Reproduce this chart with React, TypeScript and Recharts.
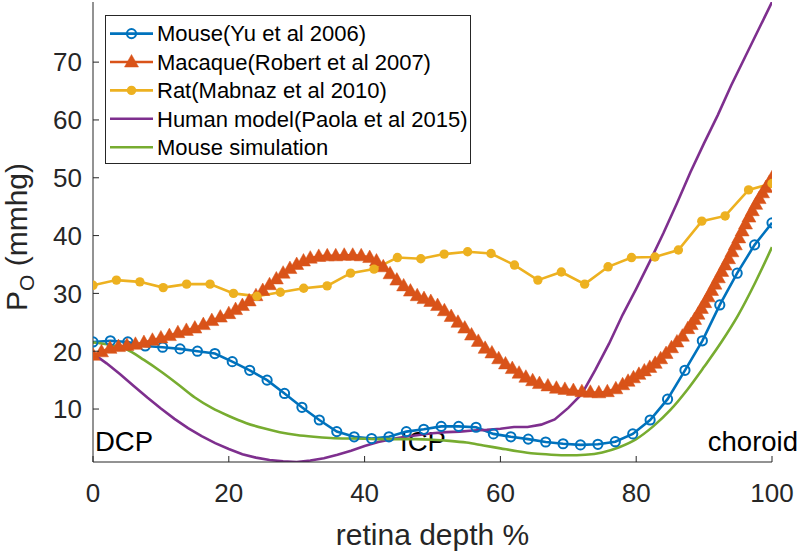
import { LineChart, Line, XAxis, YAxis, Legend } from "recharts";

const FONT = '"Liberation Sans", Arial, Helvetica, sans-serif';
const AXIS = "#262626";

const BLUE = "#0072BD";
const ORANGE = "#D95319";
const YELLOW = "#EDB120";
const PURPLE = "#7E2F8E";
const GREEN = "#77AC30";

// Mouse (Yu et al 2006)
const mouseX = [
  0, 2.56, 5.13, 7.69, 10.26, 12.82, 15.38, 17.95, 20.51, 23.08, 25.64, 28.21, 30.77, 33.33,
  35.9, 38.46, 41.03, 43.59, 46.15, 48.72, 51.28, 53.85, 56.41, 58.97, 61.54, 64.1, 66.67,
  69.23, 71.79, 74.36, 76.92, 79.49, 82.05, 84.62, 87.18, 89.74, 92.31, 94.87, 97.44, 100,
];
const mouseY = [
  21.6, 21.8, 21.6, 20.9, 20.7, 20.4, 20.0, 19.6, 18.2, 16.7, 15.0, 12.7, 10.3, 8.1, 6.1, 5.2,
  4.9, 5.2, 6.1, 6.5, 7.0, 7.0, 6.85, 5.7, 5.2, 4.8, 4.3, 4.0, 3.8, 3.9, 4.35, 5.7, 8.1, 11.7,
  16.7, 21.8, 28.0, 33.5, 38.4, 42.2,
];

const macaqueX = [
  0, 1.25, 2.5, 3.75, 5, 6.25, 7.5, 8.75, 10, 11.25, 12.5, 13.75, 15, 16.25, 17.5, 18.75, 20,
  21, 22, 23, 24, 25, 26, 27, 28, 29, 30, 31, 32,
  33.25, 34.5, 35.75, 37, 38.25, 39.5, 40.75,
  41.75, 42.75, 43.75, 44.75, 45.75, 46.75, 47.75, 48.75, 49.75, 50.75, 51.75, 52.75, 53.75,
  54.75, 55.75, 56.75, 57.75, 58.75, 59.75, 60.75, 61.75, 62.75, 63.75, 64.75, 65.75,
  67, 68.25, 69.5, 70.75, 72, 73.25, 74.5, 75.75, 77,
  78, 78.8, 79.6, 80.4, 81.2, 82, 82.8, 83.6, 84.4, 85.2, 86, 86.8, 87.6,
  88.1, 88.6, 89.1, 89.6, 90.1, 90.6, 91.1, 91.6, 92.1, 92.6, 93.1, 93.6, 94.1, 94.6, 95.1,
  95.6, 96.1, 96.6, 97.1, 97.6, 98.1, 98.6, 99.1, 99.6, 100,
];
const macaqueY = [
  19.3, 19.9, 20.5, 20.8, 21.0, 21.2, 21.5, 21.9, 22.3, 22.7, 23.2, 23.6, 24.0, 24.6, 25.3, 25.9, 26.5,
  27.2, 27.9, 28.7, 29.6, 30.5, 31.5, 32.5, 33.5, 34.3, 35.0, 35.6, 36.1,
  36.4, 36.5, 36.5, 36.6, 36.6, 36.5, 36.2,
  35.6, 34.6, 33.4, 32.3, 31.3, 30.4, 29.6, 29.1, 28.6, 27.9, 27.0, 26.0, 25.0,
  24.0, 22.8, 21.7, 20.5, 19.7, 18.7, 17.8, 17.0, 16.2, 15.5, 14.9, 14.4,
  14.0, 13.6, 13.4, 13.2, 13.0, 12.9, 12.8, 13.0, 13.5,
  14.2, 14.8, 15.4, 16.0, 16.6, 17.2, 17.9, 18.7, 19.6, 20.6, 21.6, 22.6, 23.9,
  24.6, 25.5, 26.4, 27.4, 28.4, 29.4, 30.5, 31.6, 32.7, 33.8, 34.9, 36.0, 37.2, 38.4, 39.6,
  40.8, 42.0, 43.2, 44.3, 45.4, 46.4, 47.4, 48.3, 49.2, 50.0,
];

// Rat (Mabnaz et al 2010)
const ratX = [
  0, 3.45, 6.9, 10.34, 13.79, 17.24, 20.69, 24.14, 27.59, 31.03, 34.48, 37.93, 41.38, 44.83,
  48.28, 51.72, 55.17, 58.62, 62.07, 65.52, 68.97, 72.41, 75.86, 79.31, 82.76, 86.21, 89.66,
  93.1, 96.55, 100,
];
const ratY = [
  31.4, 32.3, 32.0, 31.0, 31.6, 31.6, 30.0, 29.5, 30.2, 30.9, 31.3, 33.5, 34.2, 36.2, 36.0,
  36.8, 37.2, 36.9, 34.9, 32.3, 33.7, 31.6, 34.6, 36.2, 36.3, 37.5, 42.5, 43.4, 47.9, 49.0,
];

// Human model (Paola et al 2015)
const humanX = [
  0, 2, 4, 6, 8, 10, 12, 14, 16, 18, 20, 22, 24, 26, 28, 30, 32, 34, 36, 38, 40, 42, 44, 46, 48,
  50, 52, 54, 56, 58, 60, 62, 64, 66, 68, 70, 72, 74, 76, 78, 80, 82, 84, 86, 88, 90, 92, 94, 96,
  98, 100,
];
const humanY = [
  19.6, 17.9, 16.0, 14.0, 12.0, 10.1, 8.3, 6.7, 5.3, 4.1, 3.1, 2.2, 1.6, 1.2, 0.95, 0.84, 1.1,
  1.5, 2.1, 2.8, 3.6, 4.3, 4.8, 5.2, 5.5, 5.8, 6.0, 6.1, 6.3, 6.4, 6.6, 6.9, 6.9, 7.3, 8.2, 10.2,
  12.6, 16.8, 21.3, 26.3, 30.8, 35.5, 40.4, 45.6, 51.0, 56.0, 60.8, 66.0, 70.8, 75.6, 80.4,
];

// Mouse simulation
const simX = [
  0, 2.5, 5, 7.5, 10, 12.5, 15, 17.5, 20, 22.5, 25, 27.5, 30, 32.5, 35, 37.5, 40, 42.5, 45, 47.5,
  50, 52.5, 55, 57.5, 60, 62.5, 65, 67.5, 70, 72.5, 75, 77.5, 80, 82.5, 85, 87.5, 90, 92.5, 95,
  97.5, 100,
];
const simY = [
  21.5, 21.1, 20.3, 18.5, 16.5, 14.3, 12.0, 10.2, 8.8, 7.6, 6.7, 6.0, 5.5, 5.2, 5.0, 4.9, 4.85,
  4.8, 4.8, 4.8, 4.7, 4.5, 4.2, 3.7, 3.2, 2.7, 2.3, 2.1, 2.0, 2.1, 2.5, 3.4, 4.8, 7.0, 9.8, 13.3,
  17.3, 21.5, 26.2, 31.8, 38.0,
];

const xTicks = [0, 20, 40, 60, 80, 100];
const yTicks = [10, 20, 30, 40, 50, 60, 70];

const toPoints = (xs: number[], ys: number[]) => xs.map((x, i) => ({ x, y: ys[i] }));

const series = [
  { name: "Mouse(Yu et al 2006)", color: BLUE, marker: "circle" },
  { name: "Macaque(Robert et al 2007)", color: ORANGE, marker: "triangle" },
  { name: "Rat(Mabnaz et al 2010)", color: YELLOW, marker: "dot" },
  { name: "Human model(Paola et al 2015)", color: PURPLE, marker: "none" },
  { name: "Mouse simulation", color: GREEN, marker: "none" },
];

function Marker({ kind, cx, cy, color }: { kind: string; cx: number; cy: number; color: string }) {
  if (kind === "circle")
    return <circle cx={cx} cy={cy} r={4.6} fill="none" stroke={color} strokeWidth={2} />;
  if (kind === "triangle")
    return (
      <path
        d={`M${cx},${cy - 7.5} L${cx + 7},${cy + 5} L${cx - 7},${cy + 5} Z`}
        fill={color}
        stroke={color}
        strokeWidth={0.5}
      />
    );
  if (kind === "dot") return <circle cx={cx} cy={cy} r={4.7} fill={color} />;
  return null;
}

const dotOf = (kind: string, color: string) => (p: any) =>
  <Marker key={`${kind}-${p.index}`} kind={kind} cx={p.cx} cy={p.cy} color={color} />;

function YTick({ x, y, payload }: any) {
  return (
    <g>
      <line x1={x} x2={x + 6} y1={y} y2={y} stroke={AXIS} />
      <text x={x - 11} y={y} dy="0.36em" textAnchor="end" fontSize={26} fill={AXIS} fontFamily={FONT}>
        {payload.value}
      </text>
    </g>
  );
}

function XTick({ x, y, payload }: any) {
  return (
    <g>
      <line x1={x} x2={x} y1={y} y2={y - 6} stroke={AXIS} />
      <text x={x} y={y + 40} textAnchor="middle" fontSize={26} fill={AXIS} fontFamily={FONT}>
        {payload.value}
      </text>
    </g>
  );
}

function LegendBox() {
  return (
    <div
      style={{
        width: 366,
        height: 149,
        boxSizing: "border-box",
        border: `1px solid ${AXIS}`,
        background: "#fff",
      }}
    >
      <svg width={364} height={147} style={{ display: "block" }}>
        {series.map((s, i) => {
          const cy = 17.6 + i * 28.4;
          return (
            <g key={s.name}>
              <line x1={4} x2={47} y1={cy} y2={cy} stroke={s.color} strokeWidth={2.6} />
              <Marker kind={s.marker} cx={25.5} cy={cy} color={s.color} />
              <text x={51} y={cy} dy="0.35em" fontSize={22} fill="#000" fontFamily={FONT}>
                {s.name}
              </text>
            </g>
          );
        })}
      </svg>
    </div>
  );
}

const annoStyle = { fontSize: 27.5, fill: "#000", fontFamily: FONT };

export default function App() {
  return (
    <div style={{ position: "absolute", left: 0, top: 0, width: 800, height: 552, background: "#fff" }}>
      <LineChart width={800} height={552} margin={{ top: 2, right: 28, bottom: 0, left: 0 }}>
        <XAxis
          type="number"
          dataKey="x"
          domain={[0, 100]}
          ticks={xTicks}
          height={90}
          tickSize={0}
          tickMargin={0}
          tick={XTick}
          axisLine={{ stroke: AXIS }}
          allowDataOverflow
          label={(p: any) => {
            const vb = p.viewBox;
            return (
              <text x={vb.x + vb.width / 2} y={vb.y + 83} textAnchor="middle" fontSize={30} fill={AXIS} fontFamily={FONT}>
                retina depth %
              </text>
            );
          }}
        />
        <YAxis
          type="number"
          domain={[0.84, 80.4]}
          ticks={yTicks}
          width={93}
          tickSize={0}
          tickMargin={0}
          tick={YTick}
          axisLine={{ stroke: AXIS }}
          allowDataOverflow
          label={() => (
            <text transform="translate(27,237) rotate(-90)" textAnchor="middle" fontSize={30} fill={AXIS} fontFamily={FONT}>
              P
              <tspan fontSize={21} dy={7}>O</tspan>
              <tspan dy={-7}> (mmhg)</tspan>
            </text>
          )}
        />
        <Line
          data={toPoints(mouseX, mouseY)}
          dataKey="y"
          name={series[0].name}
          type="linear"
          stroke={BLUE}
          strokeWidth={2.6}
          dot={dotOf("circle", BLUE)}
          activeDot={false}
          isAnimationActive={false}
        />
        <Line
          data={toPoints(macaqueX, macaqueY)}
          dataKey="y"
          name={series[1].name}
          type="linear"
          stroke={ORANGE}
          strokeWidth={2.6}
          dot={dotOf("triangle", ORANGE)}
          activeDot={false}
          isAnimationActive={false}
        />
        <Line
          data={toPoints(ratX, ratY)}
          dataKey="y"
          name={series[2].name}
          type="linear"
          stroke={YELLOW}
          strokeWidth={2.6}
          dot={dotOf("dot", YELLOW)}
          activeDot={false}
          isAnimationActive={false}
        />
        <Line
          data={toPoints(humanX, humanY)}
          dataKey="y"
          name={series[3].name}
          type="linear"
          stroke={PURPLE}
          strokeWidth={2.6}
          dot={false}
          activeDot={false}
          isAnimationActive={false}
        />
        <Line
          data={toPoints(simX, simY)}
          dataKey="y"
          name={series[4].name}
          type="monotone"
          stroke={GREEN}
          strokeWidth={2.6}
          dot={false}
          activeDot={false}
          isAnimationActive={false}
        />
        <Legend
          content={LegendBox}
          layout="vertical"
          align="center"
          verticalAlign="middle"
          wrapperStyle={{ left: 105, top: 15, width: 366, height: 149 }}
        />
        <text x={95} y={451} {...annoStyle}>DCP</text>
        <text x={400} y={451} {...annoStyle}>ICP</text>
        <text x={798} y={451} textAnchor="end" {...annoStyle}>choroid</text>
      </LineChart>
    </div>
  );
}
